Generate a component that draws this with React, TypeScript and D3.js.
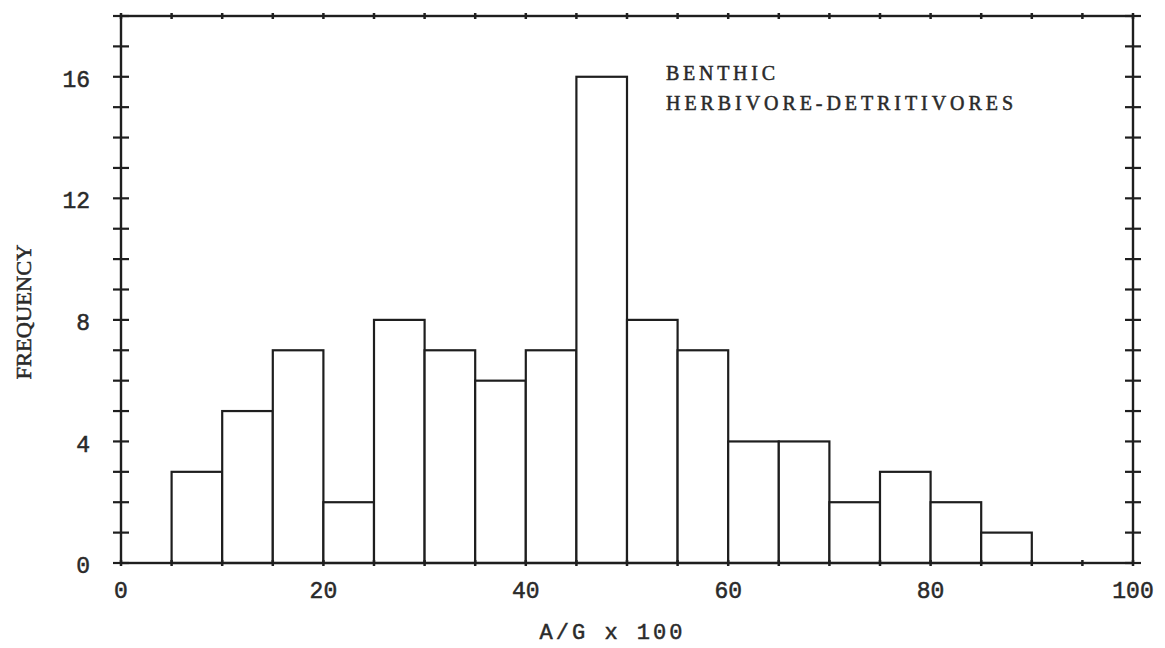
import React from "react";
import * as d3 from "d3";

const binStarts = [0, 5, 10, 15, 20, 25, 30, 35, 40, 45, 50, 55, 60, 65, 70, 75, 80, 85, 90, 95];
const frequencies = [0, 3, 5, 7, 2, 8, 7, 6, 7, 16, 8, 7, 4, 4, 2, 3, 2, 1, 0, 0];
const xTickLabels = [0, 20, 40, 60, 80, 100];
const yTickLabels = [0, 4, 8, 12, 16];
const titleLines = ["BENTHIC", "HERBIVORE-DETRITIVORES"];

const W = 1165;
const H = 648;
const left = 121;
const right = 1133;
const top = 16;
const bottom = 563;
const ink = "#1e1e1e";
const textInk = "#2a2a2a";
const font = "'Liberation Mono', 'DejaVu Sans Mono', monospace";
const serif = "'Liberation Serif', 'DejaVu Serif', serif";

export default function App() {
  const x = d3.scaleLinear().domain([0, 100]).range([left, right]);
  const y = d3.scaleLinear().domain([0, 18]).range([bottom, top]);
  const minorY = d3.range(0, 19, 1);
  const minorX = d3.range(0, 101, 5);
  const binW = 5;
  const textStyle = { stroke: textInk, strokeWidth: 0.5 };

  return (
    <svg
      width={W}
      height={H}
      style={{ position: "absolute", left: 0, top: 0, background: "#fff" }}
    >
      <rect x={0} y={0} width={W} height={H} fill="#fff" />
      {binStarts.map((b, i) =>
        frequencies[i] > 0 ? (
          <rect
            key={b}
            x={x(b)}
            y={y(frequencies[i])}
            width={x(b + binW) - x(b)}
            height={y(0) - y(frequencies[i])}
            fill="#fff"
            stroke={ink}
            strokeWidth={2.2}
          />
        ) : null
      )}
      <rect
        x={left}
        y={top}
        width={right - left}
        height={bottom - top}
        fill="none"
        stroke={ink}
        strokeWidth={2.4}
      />
      {minorY.map((v) => (
        <g key={"y" + v}>
          <line x1={left - 8} x2={left + 8} y1={y(v)} y2={y(v)} stroke={ink} strokeWidth={2.2} />
          <line x1={right - 8} x2={right + 8} y1={y(v)} y2={y(v)} stroke={ink} strokeWidth={2.2} />
        </g>
      ))}
      {minorX.map((v) => (
        <g key={"x" + v}>
          <line x1={x(v)} x2={x(v)} y1={top - 3} y2={top + 3} stroke={ink} strokeWidth={2.5} />
          <line x1={x(v)} x2={x(v)} y1={bottom - 3} y2={bottom + 3} stroke={ink} strokeWidth={2.5} />
        </g>
      ))}
      {xTickLabels.map((v) => (
        <text
          key={"xl" + v}
          x={x(v)}
          y={598}
          textAnchor="middle"
          fontFamily={font}
          fontSize={23}
          fill={textInk}
          style={textStyle}
        >
          {v}
        </text>
      ))}
      {yTickLabels.map((v) => (
        <text
          key={"yl" + v}
          x={90}
          y={y(v) + 4}
          textAnchor="end"
          dominantBaseline="middle"
          fontFamily={font}
          fontSize={23}
          fill={textInk}
          style={textStyle}
        >
          {v}
        </text>
      ))}
      <text
        x={611}
        y={639}
        textAnchor="middle"
        fontFamily={font}
        fontSize={22}
        fill={textInk}
        style={textStyle}
        textLength={143}
        lengthAdjust="spacing"
      >
        A/G x 100
      </text>
      <text
        transform={`translate(31, ${312}) rotate(-90)`}
        textAnchor="middle"
        fontFamily={serif}
        fontSize={22}
        fill={textInk}
        style={textStyle}
        textLength={135}
        lengthAdjust="spacingAndGlyphs"
      >
        FREQUENCY
      </text>
      <text x={666} y={80} fontFamily={serif} fontSize={20} fill={textInk} style={textStyle} textLength={109} lengthAdjust="spacing">
        {titleLines[0]}
      </text>
      <text x={666} y={110} fontFamily={serif} fontSize={20} fill={textInk} style={textStyle} textLength={347} lengthAdjust="spacing">
        {titleLines[1]}
      </text>
    </svg>
  );
}
